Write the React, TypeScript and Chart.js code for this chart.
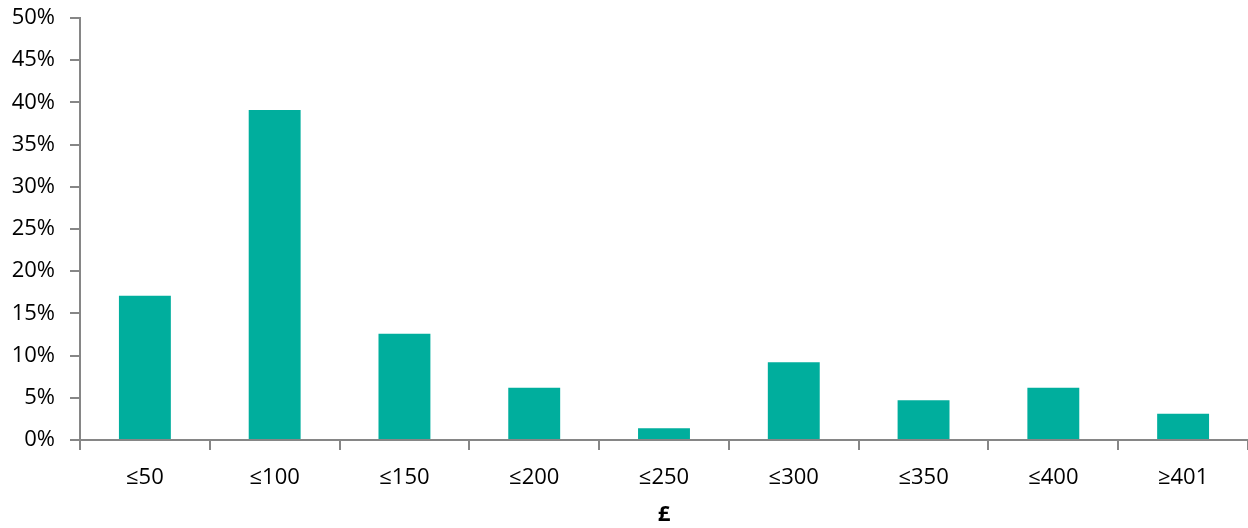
import React, { useEffect, useRef } from "react";
import { Chart, registerables } from "chart.js";

Chart.register(...registerables);

const categories = ["≤50", "≤100", "≤150", "≤200", "≤250", "≤300", "≤350", "≤400", "≥401"];
const shares = [17.1, 39.1, 12.6, 6.2, 1.4, 9.2, 4.7, 6.2, 3.1];
const xTitle = "£";
const barColor = "#00AE9D";
const axisColor = "#868686";
const fontFamily = "'Open Sans', 'Liberation Sans', sans-serif";

export default function App() {
  const ref = useRef<HTMLCanvasElement | null>(null);
  useEffect(() => {
    document.body.style.margin = "0";
    if (!ref.current) return;
    const chart = new Chart(ref.current, {
      type: "bar",
      data: {
        labels: categories,
        datasets: [
          {
            data: shares,
            backgroundColor: barColor,
            categoryPercentage: 0.4,
            barPercentage: 1,
          },
        ],
      },
      options: {
        animation: false,
        responsive: false,
        maintainAspectRatio: false,
        layout: { padding: { top: 18, right: 0, left: 0, bottom: 0 } },
        plugins: { legend: { display: false }, tooltip: { enabled: false } },
        scales: {
          x: {
            offset: true,
            grid: {
              offset: true,
              drawOnChartArea: false,
              drawTicks: true,
              tickLength: 10,
              color: axisColor,
              lineWidth: 2,
            },
            border: { color: axisColor, width: 2 },
            ticks: {
              color: "#000",
              font: { family: fontFamily, size: 22 },
              padding: 15,
              maxRotation: 0,
            },
            title: {
              display: true,
              text: xTitle,
              color: "#000",
              font: { family: fontFamily, size: 22, weight: "bold" },
              padding: { top: 4, bottom: 0 },
            },
            afterFit: (s: any) => {
              s.height = 88;
              s.paddingLeft = 0;
              s.paddingRight = 0;
            },
          },
          y: {
            min: 0,
            max: 50,
            grid: {
              drawOnChartArea: false,
              drawTicks: true,
              tickLength: 10,
              color: axisColor,
              lineWidth: 2,
            },
            border: { color: axisColor, width: 2 },
            ticks: {
              stepSize: 5,
              color: "#000",
              font: { family: fontFamily, size: 22 },
              padding: 15,
              callback: (v: any) => v + "%",
            },
            afterFit: (s: any) => {
              s.width = 80;
              s.paddingTop = 0;
              s.paddingBottom = 0;
            },
          },
        },
      },
    });
    return () => chart.destroy();
  }, []);
  return (
    <div style={{ width: 1248, height: 528 }}>
      <canvas ref={ref} width={1248} height={528} style={{ display: "block" }} />
    </div>
  );
}
